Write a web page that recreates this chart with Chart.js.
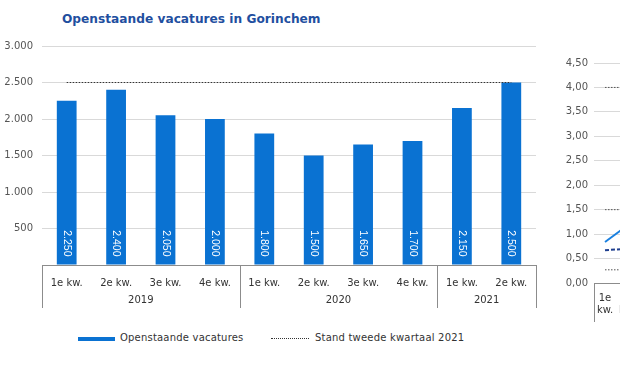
<!DOCTYPE html>
<html>
<head>
<meta charset="utf-8">
<script src="https://cdn.jsdelivr.net/npm/chart.js@4"></script>
<style>
  html, body { margin:0; padding:0; background:#fff; }
  body { width:620px; height:365px; overflow:hidden; position:relative; font-family:"DejaVu Sans", sans-serif; }
  #title { position:absolute; left:62px; top:12px; font-weight:bold; font-size:12.2px; color:#1f4f9f; white-space:nowrap; }
  #c1wrap { position:absolute; left:0; top:0; width:545px; height:320px; }
  #c2wrap { position:absolute; left:540px; top:0; width:300px; height:330px; }
  .legend { position:absolute; top:331px; font-size:10px; letter-spacing:0.2px; color:#333; white-space:nowrap; line-height:14px; }
  .sw { position:absolute; }
</style>
</head>
<body>
<div id="title">Openstaande vacatures in Gorinchem</div>
<div id="c1wrap"><canvas id="c1" width="545" height="320"></canvas></div>
<div id="c2wrap"><canvas id="c2" width="300" height="330"></canvas></div>
<div class="sw" style="left:78px;top:337px;width:37px;height:4px;background:#0a72d2;"></div>
<div class="legend" style="left:120px;">Openstaande vacatures</div>
<div class="sw" style="left:271px;top:338px;width:38px;height:0;border-top:1px dotted #333;"></div>
<div class="legend" style="left:315px;">Stand tweede kwartaal 2021</div>
<script>
// ---- data: main chart ----
const categories = ['1e kw.','2e kw.','3e kw.','4e kw.','1e kw.','2e kw.','3e kw.','4e kw.','1e kw.','2e kw.'];
const years = ['2019','2020','2021'];
const quartersPerYear = [4, 4, 2];
const vacatures = [2250, 2400, 2050, 2000, 1800, 1500, 1650, 1700, 2150, 2500];
const standQ2_2021 = [2500, 2500, 2500, 2500, 2500, 2500, 2500, 2500, 2500, 2500];
const yMin = 0, yMax = 3000, yStep = 500;

// ---- data: partially visible neighbouring chart ----
const c2Categories = [['1e','kw.'],['2e','kw.'],['3e','kw.'],['4e','kw.'],['1e','kw.'],['2e','kw.'],['3e','kw.'],['4e','kw.'],['1e','kw.'],['2e','kw.']];
const c2SolidSeries = [0.84, 1.17, null, null, null, null, null, null, null, null];
const c2DashedSeries = [0.67, 0.70, null, null, null, null, null, null, null, null];
const c2RefHigh = [4.00, 4.00, 4.00, 4.00, 4.00, 4.00, 4.00, 4.00, 4.00, 4.00];
const c2RefMid = [1.50, 1.50, 1.50, 1.50, 1.50, 1.50, 1.50, 1.50, 1.50, 1.50];
const c2RefLow = [0.27, 0.27, 0.27, 0.27, 0.27, 0.27, 0.27, 0.27, 0.27, 0.27];
const c2Min = 0, c2Max = 4.5, c2Step = 0.5;

const fmtNL = n => String(n).replace(/\B(?=(\d{3})+(?!\d))/g, '.');
const GRID = '#d9d9d9';
const AXIS = '#8c8c8c';

const groupAxisPlugin = {
  id: 'groupAxis',
  afterDraw(chart, args, opts) {
    const xs = chart.scales.x;
    const ctx = chart.ctx;
    const top = chart.chartArea.bottom;
    ctx.save();
    ctx.strokeStyle = AXIS;
    ctx.lineWidth = 1;
    let idx = 0;
    const bounds = [0];
    opts.groups.forEach(g => { idx += g; bounds.push(idx); });
    bounds.forEach(b => {
      const x = Math.round(xs.getPixelForValue(b - 0.5)) + 0.5;
      ctx.beginPath(); ctx.moveTo(x, top); ctx.lineTo(x, opts.lineBottom); ctx.stroke();
    });
    if (opts.labels) {
      ctx.fillStyle = '#333';
      ctx.font = '10px "DejaVu Sans"';
      ctx.textAlign = 'center';
      ctx.textBaseline = 'middle';
      for (let i = 0; i < opts.labels.length; i++) {
        const x0 = xs.getPixelForValue(bounds[i] - 0.5);
        const x1 = xs.getPixelForValue(bounds[i + 1] - 0.5);
        ctx.fillText(opts.labels[i], (x0 + x1) / 2, opts.labelY);
      }
    }
    ctx.restore();
  }
};

const barLabelPlugin = {
  id: 'barLabels',
  afterDatasetsDraw(chart) {
    const ctx = chart.ctx;
    chart.data.datasets.forEach((ds, di) => {
      if (ds.type !== 'bar') return;
      const meta = chart.getDatasetMeta(di);
      meta.data.forEach((el, i) => {
        ctx.save();
        ctx.translate(el.x, el.base - 8);
        ctx.rotate(Math.PI / 2);
        ctx.fillStyle = '#ffffff';
        ctx.font = '10.5px "Liberation Sans"';
        ctx.textAlign = 'right';
        ctx.textBaseline = 'middle';
        ctx.fillText(fmtNL(ds.data[i]), 0, 0);
        ctx.restore();
      });
    });
  }
};

new Chart(document.getElementById('c1'), {
  data: {
    labels: categories,
    datasets: [
      { type: 'line', label: 'Stand tweede kwartaal 2021', data: standQ2_2021, borderColor: '#333', borderWidth: 1, borderDash: [1.5, 1.5], pointRadius: 0, fill: false, order: 0 },
      { type: 'bar', label: 'Openstaande vacatures', data: vacatures, backgroundColor: '#0a72d2', barPercentage: 0.4, categoryPercentage: 1, order: 1 }
    ]
  },
  options: {
    responsive: false, animation: false,
    layout: { padding: { top: 46, right: 9, left: 0, bottom: 0 } },
    plugins: { legend: { display: false }, tooltip: { enabled: false },
      groupAxis: { groups: quartersPerYear, labels: years, lineBottom: 308, labelY: 300 } },
    scales: {
      x: {
        grid: { display: false, drawTicks: false },
        border: { display: true, color: AXIS, width: 1 },
        ticks: { color: '#333', font: { family: 'DejaVu Sans', size: 10 }, padding: 12, maxRotation: 0, autoSkip: false },
        afterFit: s => { s.height = 55; }
      },
      y: {
        min: yMin, max: yMax,
        grid: { color: GRID, drawTicks: false },
        border: { display: false },
        ticks: { stepSize: yStep, color: '#555', font: { family: 'DejaVu Sans', size: 10 }, padding: 9,
          callback: v => v === 0 ? '' : fmtNL(v) },
        afterFit: s => { s.width = 42; }
      }
    }
  },
  plugins: [groupAxisPlugin, barLabelPlugin]
});

new Chart(document.getElementById('c2'), {
  type: 'line',
  data: {
    labels: c2Categories,
    datasets: [
      { data: c2RefHigh, borderColor: '#555', borderWidth: 1, borderDash: [1.5, 1.5], pointRadius: 0 },
      { data: c2RefMid, borderColor: '#555', borderWidth: 1, borderDash: [1.5, 1.5], pointRadius: 0 },
      { data: c2RefLow, borderColor: '#555', borderWidth: 1, borderDash: [1.5, 1.5], pointRadius: 0 },
      { data: c2DashedSeries, borderColor: '#1f3f8f', borderWidth: 2, borderDash: [4, 2], pointRadius: 0 },
      { data: c2SolidSeries, borderColor: '#1a80e0', borderWidth: 2, pointRadius: 0 }
    ]
  },
  options: {
    responsive: false, animation: false,
    layout: { padding: { top: 63, right: 26, left: 0, bottom: 0 } },
    plugins: { legend: { display: false }, tooltip: { enabled: false },
      groupAxis: { groups: [10], labels: null, lineBottom: 322, labelY: 0 } },
    scales: {
      x: {
        offset: true,
        grid: { display: false, drawTicks: false },
        border: { display: true, color: AXIS, width: 1 },
        ticks: { color: '#333', font: { family: 'DejaVu Sans', size: 10 }, padding: 9, maxRotation: 0, autoSkip: false },
        afterFit: s => { s.height = 47; }
      },
      y: {
        min: c2Min, max: c2Max,
        grid: { color: GRID, drawTicks: false },
        border: { display: false },
        ticks: { stepSize: c2Step, color: '#555', font: { family: 'DejaVu Sans', size: 10 }, padding: 6,
          callback: v => v.toFixed(2).replace('.', ',') },
        afterFit: s => { s.width = 54; }
      }
    }
  },
  plugins: [groupAxisPlugin]
});
</script>
</body>
</html>
